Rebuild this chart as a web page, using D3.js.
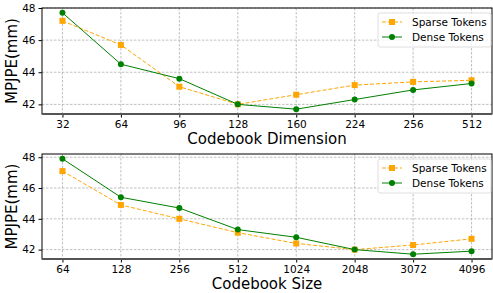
<!DOCTYPE html>
<html>
<head>
<meta charset="utf-8">
<script src="https://cdn.jsdelivr.net/npm/d3@7"></script>
<style>
  body { margin: 0; background: #fff; }
  svg text { font-family: "DejaVu Sans", sans-serif; fill: #000; }
</style>
</head>
<body>
<svg id="chart" width="493" height="293"></svg>
<script>
// top panel: codebook dimension
var dimLabels = ["32", "64", "96", "128", "160", "224", "256", "512"];
var dimSparse = [47.2, 45.7, 43.1, 42.0, 42.6, 43.2, 43.4, 43.5];
var dimDense = [47.7, 44.5, 43.6, 42.0, 41.7, 42.3, 42.9, 43.3];

// bottom panel: codebook size
var sizeLabels = ["64", "128", "256", "512", "1024", "2048", "3072", "4096"];
var sizeSparse = [47.1, 44.9, 44.0, 43.1, 42.4, 42.0, 42.3, 42.7];
var sizeDense = [47.9, 45.4, 44.7, 43.3, 42.8, 42.0, 41.7, 41.9];

var yTicks = [42, 44, 46, 48];
var seriesNames = ["Sparse Tokens", "Dense Tokens"];

var svg = d3.select("#chart");

function DrawPanel(top, bottom, labels, sparse, dense, xTitle)
{
  var left = 42, right = 492;
  var g = svg.append("g");

  var x = d3.scalePoint().domain(labels).range([left, right]).padding(0.35);

  var all = sparse.concat(dense);
  var lo = d3.min(all), hi = d3.max(all);
  var pad = (hi - lo) * 0.05;
  var y = d3.scaleLinear().domain([lo - pad, hi + pad]).range([bottom, top]);

  // grid
  g.selectAll(".vg").data(labels).enter().append("line")
    .attr("x1", function(d) { return x(d); }).attr("x2", function(d) { return x(d); })
    .attr("y1", top).attr("y2", bottom)
    .attr("stroke", "#b0b0b0").attr("stroke-width", 0.8).attr("stroke-dasharray", "2.5,1.5");
  g.selectAll(".hg").data(yTicks).enter().append("line")
    .attr("x1", left).attr("x2", right)
    .attr("y1", function(d) { return y(d); }).attr("y2", function(d) { return y(d); })
    .attr("stroke", "#b0b0b0").attr("stroke-width", 0.8).attr("stroke-dasharray", "2.5,1.5");

  // axes
  var xAxis = d3.axisBottom(x).tickSize(3.5).tickPadding(3);
  var gx = g.append("g").attr("transform", "translate(0," + bottom + ")").call(xAxis);
  gx.select(".domain").remove();
  gx.selectAll("text").style("font-size", "10.5px");

  var yAxis = d3.axisLeft(y).tickValues(yTicks).tickFormat(d3.format("d")).tickSize(3.5).tickPadding(3);
  var gy = g.append("g").attr("transform", "translate(" + left + ",0)").call(yAxis);
  gy.select(".domain").remove();
  gy.selectAll("text").style("font-size", "10.5px");

  // frame
  g.append("rect").attr("x", left).attr("y", top)
    .attr("width", right - left).attr("height", bottom - top)
    .attr("fill", "none").attr("stroke", "#000").attr("stroke-width", 1);
  g.append("line").attr("x1", left).attr("x2", right).attr("y1", bottom).attr("y2", bottom)
    .attr("stroke", "#555").attr("stroke-width", 2);

  var line = d3.line()
    .x(function(d, i) { return x(labels[i]); })
    .y(function(d) { return y(d); });

  g.append("path").datum(sparse).attr("d", line)
    .attr("fill", "none").attr("stroke", "orange").attr("stroke-width", 1).attr("stroke-dasharray", "4,2");
  g.selectAll(".sq").data(sparse).enter().append("rect")
    .attr("x", function(d, i) { return x(labels[i]) - 3; })
    .attr("y", function(d) { return y(d) - 3; })
    .attr("width", 6).attr("height", 6).attr("fill", "orange");

  g.append("path").datum(dense).attr("d", line)
    .attr("fill", "none").attr("stroke", "green").attr("stroke-width", 1);
  g.selectAll(".ci").data(dense).enter().append("circle")
    .attr("cx", function(d, i) { return x(labels[i]); })
    .attr("cy", function(d) { return y(d); })
    .attr("r", 3).attr("fill", "green");

  // titles
  g.append("text").attr("x", (left + right) / 2).attr("y", bottom + 29.5)
    .attr("text-anchor", "middle").style("font-size", "15px").text(xTitle);
  g.append("text")
    .attr("transform", "translate(17," + ((top + bottom) / 2) + ") rotate(-90)")
    .attr("text-anchor", "middle").style("font-size", "15px").text("MPJPE(mm)");

  // legend
  var lx = 378, ly = top + 5;
  var lg = g.append("g");
  lg.append("rect").attr("x", lx).attr("y", ly).attr("width", 113).attr("height", 34)
    .attr("rx", 2).attr("fill", "#fff").attr("fill-opacity", 0.8)
    .attr("stroke", "#d6d6d6").attr("stroke-width", 0.8);
  var rows = [ly + 9, ly + 24];
  lg.append("line").attr("x1", lx + 4).attr("x2", lx + 24).attr("y1", rows[0]).attr("y2", rows[0])
    .attr("stroke", "orange").attr("stroke-dasharray", "4,2");
  lg.append("rect").attr("x", lx + 11).attr("y", rows[0] - 3).attr("width", 6).attr("height", 6).attr("fill", "orange");
  lg.append("line").attr("x1", lx + 4).attr("x2", lx + 24).attr("y1", rows[1]).attr("y2", rows[1])
    .attr("stroke", "green");
  lg.append("circle").attr("cx", lx + 14).attr("cy", rows[1]).attr("r", 3).attr("fill", "green");
  lg.selectAll(".lt").data(seriesNames).enter().append("text")
    .attr("x", lx + 34).attr("y", function(d, i) { return rows[i] + 4; })
    .style("font-size", "10.5px").text(function(d) { return d; });
}

DrawPanel(8, 114, dimLabels, dimSparse, dimDense, "Codebook Dimension");
DrawPanel(154, 259, sizeLabels, sizeSparse, sizeDense, "Codebook Size");
</script>
</body>
</html>
